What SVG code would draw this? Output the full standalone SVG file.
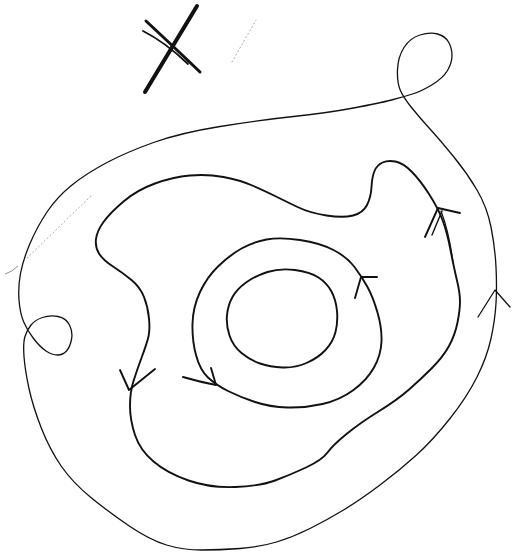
<svg xmlns="http://www.w3.org/2000/svg" width="520" height="558" viewBox="0 0 520 558">
<style>
.ln{fill:none;stroke:#111;stroke-linecap:round;stroke-linejoin:round}
.thin{stroke-width:1.3}
.mid{stroke-width:1.9}
.arr{stroke-width:1.9}
.faint{fill:none;stroke:#9a9a9a;stroke-width:0.9;stroke-dasharray:1 3;stroke-linecap:round}
</style>
<rect width="520" height="558" fill="#fff"/>
<g id="mark-x">
<path class="ln" stroke-width="4" d="M197,6 L145,92"/>
<path class="ln" stroke-width="3" d="M146,21 Q175,48 200,72"/>
<path class="ln" stroke-width="1.8" d="M143,31 Q165,42 188,64"/>
</g>
<g id="outer-curve">
<path class="ln thin" d="M 20.5,273.5 Q 23,260 30,243.5 Q 37,227 47,212 Q 57,197 72,185 Q 87,173 107,162.5 Q 127,152 153.5,142.5 Q 180,133 220,126.5 Q 260,120 293.5,116.5 Q 327,113 353.5,108 Q 380,103 391.5,100 Q 403,97 412.5,94 Q 422,91 432.5,84.5 Q 443,78 447.5,70.5 Q 452,63 452,55.5 Q 452,48 448.5,42 Q 445,36 437.5,34 Q 430,32 420,35 Q 410,38 404,47.5 Q 398,57 397.5,69.5 Q 397,82 400,89.5 Q 403,97 411.5,107.5 Q 420,118 430,129 Q 440,140 453.5,156.5 Q 467,173 477,190 Q 487,207 491,227 Q 495,247 496,267 Q 497,287 496,303.5 Q 495,320 491,338.5 Q 487,357 477,377 Q 467,397 450,418.5 Q 433,440 416.5,455 Q 400,470 380,485 Q 360,500 343.5,510 Q 327,520 310,528.5 Q 293,537 276.5,542 Q 260,547 240,548.5 Q 220,550 201.5,550 Q 183,550 166.5,545 Q 150,540 130,526.5 Q 110,513 91.5,498 Q 73,483 61.5,466.5 Q 50,450 41.5,428.5 Q 33,407 29,388.5 Q 25,370 24,356.5 Q 23,343 25,336.5 Q 27,330 31,325 Q 35,320 42.5,317.5 Q 50,315 58,316.5 Q 66,318 69.5,325 Q 73,332 71.5,339.5 Q 70,347 66.5,351 Q 63,355 57.5,355 Q 52,355 46,351 Q 40,347 33.5,338.5 Q 27,330 23.5,321.5 Q 20,313 19,300 Q 18,287 20.5,273.5 Z"/>
</g>
<g id="middle-curve">
<path class="ln mid" d="M 148.5,336.5 Q 150,330 149,318.5 Q 148,307 144,297 Q 140,287 131.5,280 Q 123,273 113,266.5 Q 103,260 99,253.5 Q 95,247 96,239 Q 97,231 103.5,222 Q 110,213 123.5,201.5 Q 137,190 155,183.5 Q 173,177 190,175.5 Q 207,174 223.5,177 Q 240,180 253.5,186 Q 267,192 276,196.5 Q 285,201 297.5,207 Q 310,213 326.5,215.5 Q 343,218 353,215.5 Q 363,213 367,205 Q 371,197 371.5,187 Q 372,177 374.5,171 Q 377,165 382.5,162.5 Q 388,160 395.5,161.5 Q 403,163 411.5,171.5 Q 420,180 429,194 Q 438,208 442.5,220 Q 447,232 450.5,250 Q 454,268 457,280.5 Q 460,293 460,301.5 Q 460,310 457.5,322.5 Q 455,335 449,346 Q 443,357 431.5,368.5 Q 420,380 408.5,390 Q 397,400 378.5,411.5 Q 360,423 346.5,434 Q 333,445 327.5,452.5 Q 322,460 306,467.5 Q 290,475 275,480.5 Q 260,486 235,487 Q 210,488 188.5,480.5 Q 167,473 153.5,461.5 Q 140,450 135,435 Q 130,420 130,406 Q 130,392 133.5,381 Q 137,370 142,356.5 Q 147,343 148.5,336.5 Z"/>
</g>
<g id="ring">
<path class="ln mid" d="M 300,240 Q 320,243 333.5,250 Q 347,257 354.5,267 Q 362,277 367.5,287 Q 373,297 377.5,312.5 Q 382,328 381.5,341.5 Q 381,355 374,367.5 Q 367,380 353.5,390 Q 340,400 322.5,404 Q 305,408 287.5,407.5 Q 270,407 255,402 Q 240,397 228,391 Q 216,385 208,377.5 Q 200,370 196,355 Q 192,340 192.5,323.5 Q 193,307 200,292 Q 207,277 218.5,266 Q 230,255 241.5,248.5 Q 253,242 266.5,239.5 Q 280,237 300,240 Z"/>
</g>
<g id="inner-circle">
<path class="ln mid" d="M 295,270 Q 310,272 318.5,277.5 Q 327,283 331.5,291.5 Q 336,300 337,311 Q 338,322 335.5,332 Q 333,342 325.5,350 Q 318,358 306.5,363 Q 295,368 282.5,367.5 Q 270,367 260,363.5 Q 250,360 241.5,353 Q 233,346 229.5,335.5 Q 226,325 227,315 Q 228,305 232.5,297 Q 237,289 246,282.5 Q 255,276 267.5,272 Q 280,268 295,270 Z"/>
</g>
<g id="connectors">
<path class="ln arr" d="M377,277 L361,277 L355,298"/>
<path class="ln arr" d="M183,377 Q200,382 216,385 L211,368"/>
<path class="ln arr" d="M460,213 L438,208 L425,237"/>
<path class="ln" stroke-width="1.4" d="M442,211 L432,235"/>
<path class="ln" stroke-width="1.2" d="M441,211 Q449,232 453,262"/>
<path class="ln arr" d="M120,370 L129,390 L155,369"/>
<path class="ln thin" d="M478,317 L495,290 L510,307"/>
</g>
<g id="faint">
<path class="faint" d="M27,258 L92,195"/>
<path class="faint" d="M232,62 L256,20"/>
<path fill="none" stroke="#777" stroke-width="0.8" d="M5,274 Q12,272 18,266"/>
</g>
</svg>
